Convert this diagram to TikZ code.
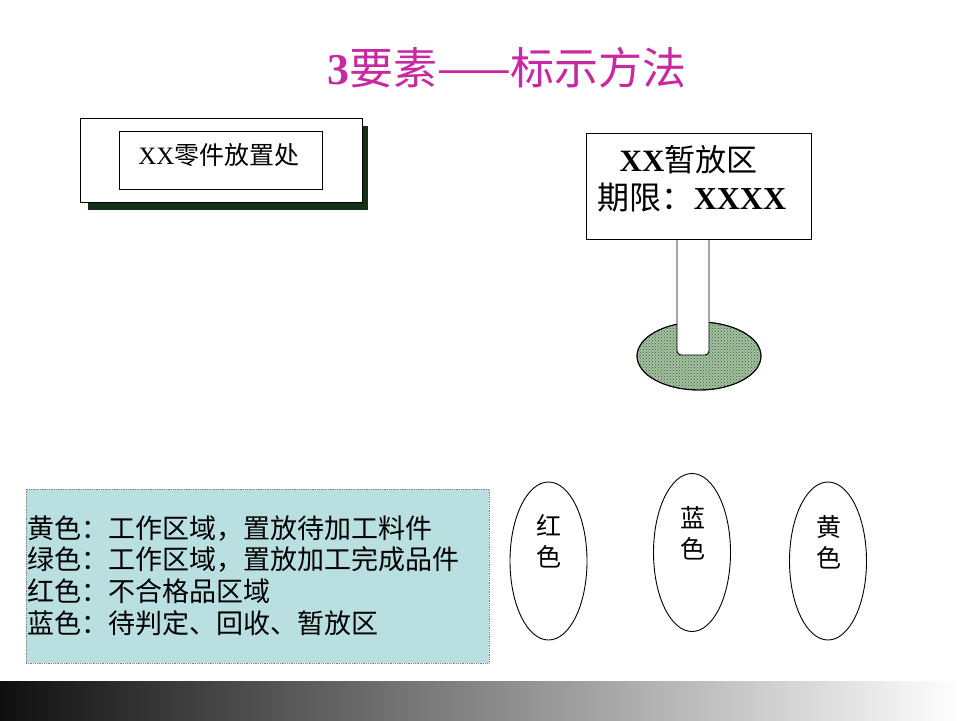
\documentclass[tikz,border=0pt]{standalone}
\usepackage{fontspec}
\setmainfont{Liberation Serif}
\newfontfamily\cjk{Noto Sans CJK SC}
\usetikzlibrary{shapes.geometric,patterns}
\definecolor{titlemag}{RGB}{200,40,160}
\definecolor{shadowgreen}{RGB}{22,48,24}
\definecolor{baselight}{RGB}{165,192,160}
\definecolor{basedark}{RGB}{55,95,58}
\definecolor{legendcyan}{RGB}{186,223,224}
\tikzset{
  box/.style={draw=black, line width=0.9pt, fill=white, inner sep=0pt},
  txt/.style={inner sep=0pt, align=center},
  colell/.style={draw=black, line width=0.9pt, ellipse, inner sep=0pt, minimum width=77pt, minimum height=158pt},
  coltxt/.style={inner sep=0pt, align=center, font=\fontsize{25}{31}\selectfont\cjk},
}
\begin{document}
\begin{tikzpicture}[x=1pt,y=-1pt]
\useasboundingbox (0,0) rectangle (960,720);
\fill[white] (0,0) rectangle (960,720);

% title
\node[txt, text=titlemag, font=\fontsize{44}{46}\selectfont] (title) at (507,68) {\textbf{3}{\cjk 要素——标示方法}};

% left label box
\fill[shadowgreen] (88,126) rectangle (368,210);
\node[box, minimum width=282pt, minimum height=84pt] (outer) at (221,160) {};
\node[box, minimum width=203pt, minimum height=58pt] (inner) at (220.5,160) {};
\node[txt, font=\fontsize{25}{27}\selectfont] (innerlabel) at (219,155) {XX{\cjk 零件放置处}};

% sign
\draw[fill=baselight, line width=0.9pt] (699,356) ellipse [x radius=62, y radius=34];
\fill[pattern=crosshatch dots, pattern color=basedark] (699,356) ellipse [x radius=62, y radius=34];
\draw[line width=0.9pt] (699,356) ellipse [x radius=62, y radius=34];
\draw[fill=white, line width=0.9pt] (677,239) [rounded corners=4pt] -- (677,355) -- (709,355) [sharp corners] -- (709,239);
\node[box, minimum width=225pt, minimum height=106pt] (sign) at (698.5,186) {};
\node[txt, font=\fontsize{31}{33}\selectfont] (signa) at (688.5,160) {\textbf{XX}{\cjk 暂放区}};
\node[txt, font=\fontsize{32}{34}\selectfont] (signb) at (692,198) {{\cjk 期限：}\textbf{XXXX}};

% legend
\node[draw=gray, densely dotted, line width=0.8pt, fill=legendcyan, minimum width=463pt, minimum height=174pt, inner sep=0pt] (legend) at (257.5,576) {};
\node[inner sep=0pt, align=left, anchor=west, font=\fontsize{27}{31.7}\selectfont\cjk] (legendtext) at (27,575.5) {黄色：工作区域，置放待加工料件\\绿色：工作区域，置放加工完成品件\\红色：不合格品区域\\蓝色：待判定、回收、暂放区};

% colour ellipses
\node[colell] (red) at (548.5,561) {};
\node[coltxt] (redt) at (549,541.5) {红\\色};
\node[colell] (blue) at (692,552.5) {};
\node[coltxt] (bluet) at (693,533) {蓝\\色};
\node[colell] (yellow) at (828,561) {};
\node[coltxt] (yellowt) at (829,542) {黄\\色};

% bottom gradient bar
\shade[left color={rgb,255:red,15;green,15;blue,15}, right color=white] (0,681) rectangle (960,720);
\end{tikzpicture}
\end{document}
